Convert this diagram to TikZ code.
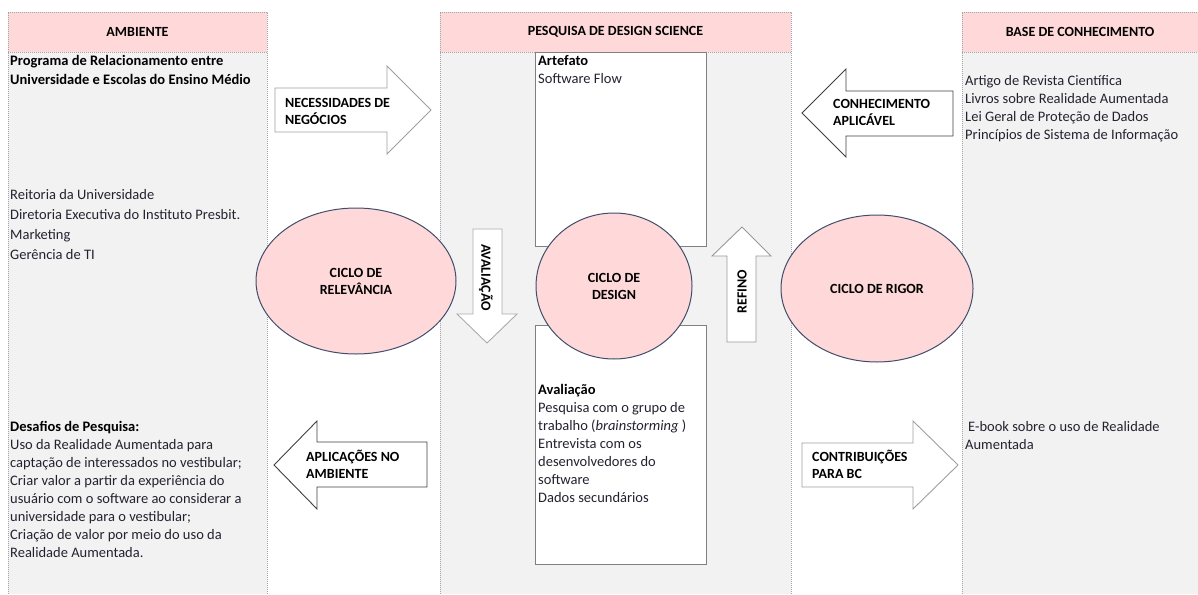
\documentclass[tikz,border=0pt]{standalone}
\usepackage{fontspec}
\setmainfont{Carlito}
\usepackage{tikz}
\usetikzlibrary{positioning,shapes.geometric}
\definecolor{headpink}{RGB}{255,217,217}
\definecolor{panelgray}{RGB}{242,242,242}
\definecolor{ringblue}{RGB}{64,78,108}
\definecolor{bodytext}{RGB}{35,35,48}
\definecolor{dotgray}{RGB}{165,165,165}

\begin{document}
\begin{tikzpicture}[x=1pt, y=-1pt,
        colline/.style={dotgray, line width=0.6pt, dash pattern=on 1pt off 1pt},
        headbox/.style={fill=headpink, minimum height=40pt, inner sep=0pt, font=\bfseries\fontsize{14}{16}\selectfont},
        bodyline/.style={anchor=base west, inner sep=0pt, text=bodytext, font=\fontsize{14.5}{18}\selectfont},
        boldline/.style={bodyline, text=black, font=\bfseries\fontsize{14.5}{18}\selectfont},
        cyclenode/.style={ellipse, draw=ringblue, line width=1pt, fill=headpink, inner sep=0pt, align=center, font=\bfseries\fontsize{14}{17}\selectfont},
        blockarrow/.style={fill=white, line width=0.9pt},
        arrowlabel/.style={anchor=west, inner sep=0pt, align=left, font=\bfseries\fontsize{14}{17}\selectfont},
        sidebox/.style={draw=gray, fill=white, line width=0.8pt}]
        \useasboundingbox (0,0) rectangle (1198,594);

        % Ambiente
        \fill[panelgray] (8,52) rectangle (267,594);
        \node[headbox, minimum width=259pt] (ambhead) at (137.5,32) {AMBIENTE};
        \draw[colline] (8,594) -- (8,12) -- (267,12) -- (267,594);
        \draw[colline] (8,52) -- (267,52);

        % Pesquisa de design science
        \fill[panelgray] (440,52) rectangle (791,594);
        \node[headbox, minimum width=351pt] (dshead) at (615.5,32) {PESQUISA DE DESIGN SCIENCE};
        \draw[colline] (440,594) -- (440,12) -- (791,12) -- (791,594);
        \draw[colline] (440,52) -- (791,52);

        % Base de conhecimento
        \fill[panelgray] (962,52) rectangle (1198,594);
        \node[headbox, minimum width=236pt] (bchead) at (1080,32) {BASE DE CONHECIMENTO};
        \draw[colline] (962,594) -- (962,12) -- (1198,12);
        \draw[colline] (962,52) -- (1198,52);

        % Artefato / Avaliacao boxes
        \draw[sidebox] (535,52) rectangle (706,246);
        \draw[sidebox] (535,325) rectangle (706,564);

        % Block arrows
        \draw[blockarrow, draw=gray!75] (275,88) -- (387,88) -- (387,66) -- (431,110) -- (387,154) -- (387,132) -- (275,132) -- cycle;
        \draw[blockarrow, draw=black!75] (427,442) -- (317,442) -- (317,421) -- (274,465) -- (317,509) -- (317,487) -- (427,487) -- cycle;
        \draw[blockarrow, draw=black!75] (953,91) -- (846,91) -- (846,69) -- (802,113) -- (846,157) -- (846,136) -- (953,136) -- cycle;
        \draw[blockarrow, draw=gray!75] (802,443) -- (913,443) -- (913,421) -- (958,465) -- (913,509) -- (913,487) -- (802,487) -- cycle;
        \draw[blockarrow, draw=gray!65] (473,229) -- (502,229) -- (502,314) -- (517,314) -- (487,343) -- (457,314) -- (473,314) -- cycle;
        \draw[blockarrow, draw=gray!80] (727,342) -- (727,256) -- (712,256) -- (742,227) -- (771,256) -- (756,256) -- (756,342) -- cycle;

        \node[arrowlabel] (necess) at (285,111) {NECESSIDADES DE\\NEGÓCIOS};
        \node[arrowlabel] (aplic) at (306,464) {APLICAÇÕES NO\\AMBIENTE};
        \node[arrowlabel] (conhec) at (833,112.5) {CONHECIMENTO\\APLICÁVEL};
        \node[arrowlabel] (contrib) at (812,464) {CONTRIBUIÇÕES\\PARA BC};
        \node[font=\bfseries\fontsize{14}{17}\selectfont, inner sep=0pt, rotate=-90] (avaltxt) at (486,277.5) {AVALIAÇÃO};
        \node[font=\bfseries\fontsize{14}{17}\selectfont, inner sep=0pt, rotate=90] (refino) at (742,291.5) {REFINO};

        % Cycles
        \node[cyclenode, minimum width=200pt, minimum height=146pt] (relev) at (356,281) {CICLO DE\\RELEVÂNCIA};
        \node[cyclenode, minimum width=156pt, minimum height=146pt] (design) at (614,286) {CICLO DE\\DESIGN};
        \node[cyclenode, minimum width=192pt, minimum height=147pt] (rigor) at (877,288.5) {CICLO DE RIGOR};

        % Ambiente texts
        \node[boldline] (prog1) at (10,66) {Programa de Relacionamento entre};
        \node[boldline] (prog2) at (10,84) {Universidade e Escolas do Ensino Médio};
        \foreach \txt [count=\i] in {Reitoria da Universidade, Diretoria Executiva do Instituto Presbit., Marketing, Gerência de TI}
            \node[bodyline] (stake-\i) at (10,179+20*\i) {\txt};
        \node[boldline] (desaf) at (10,431) {Desafios de Pesquisa:};
        \foreach \txt [count=\i] in {{Uso da Realidade Aumentada para}, {captação de interessados no vestibular;}, {Criar valor a partir da experiência do}, {usuário com o software ao considerar a}, {universidade para o vestibular;}, {Criação de valor por meio do uso da}, {Realidade Aumentada.}}
            \node[bodyline] (desaf-\i) at (10,431+18*\i) {\txt};

        % Design science texts
        \node[boldline] (artef) at (538,65) {Artefato};
        \node[bodyline] (artef-sw) at (538,83) {Software Flow};
        \node[boldline] (aval) at (538,394) {Avaliação};
        \foreach \txt [count=\i] in {{Pesquisa com o grupo de}, {trabalho (\textit{brainstorming} )}, {Entrevista com os}, {desenvolvedores do}, {software}, {Dados secundários}}
            \node[bodyline] (aval-\i) at (538,394+18*\i) {\txt};

        % Base de conhecimento texts
        \foreach \txt [count=\i] in {Artigo de Revista Científica, Livros sobre Realidade Aumentada, Lei Geral de Proteção de Dados, Princípios de Sistema de Informação}
            \node[bodyline] (base-\i) at (965,67+18*\i) {\txt};
        \node[bodyline] (ebook1) at (968,431) {E-book sobre o uso de Realidade};
        \node[bodyline] (ebook2) at (965,449) {Aumentada};
    \end{tikzpicture}
\end{document}
